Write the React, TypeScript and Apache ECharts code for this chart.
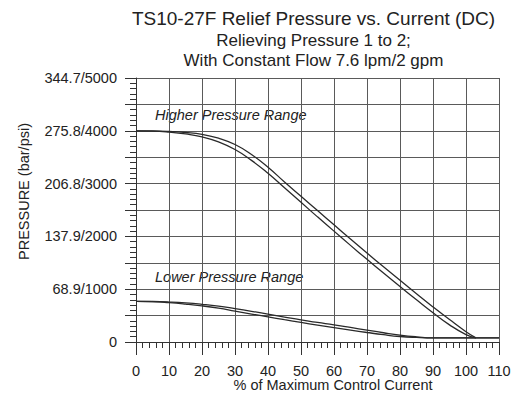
import React, { useEffect, useRef } from "react";
import * as echarts from "echarts";

const xValues = [0, 5, 10, 15, 20, 25, 30, 35, 40, 45, 50, 55, 60, 65, 70, 75, 80, 85, 90, 95, 100, 103];
const higherUpper = [4000, 3998, 3988, 3968, 3932, 3860, 3740, 3550, 3310, 3030, 2760, 2490, 2220, 1950, 1685, 1425, 1170, 915, 665, 425, 195, 78];
const higherLower = [4000, 3995, 3975, 3940, 3885, 3790, 3645, 3440, 3195, 2920, 2645, 2370, 2100, 1830, 1565, 1305, 1050, 800, 555, 325, 140, 78];

const lowX = [0, 5, 10, 15, 20, 25, 30, 35, 40, 45, 50, 55, 60, 65, 70, 75, 80, 85, 90, 110];
const lowerUpper = [770, 767, 757, 740, 714, 680, 633, 582, 527, 472, 418, 370, 325, 275, 225, 175, 130, 98, 78, 78];
const lowerLower = [770, 763, 745, 718, 684, 640, 585, 530, 476, 422, 370, 320, 272, 225, 180, 138, 104, 86, 78, 78];

const yTickLabels: Record<number, string> = {
  0: "0",
  1000: "68.9/1000",
  2000: "137.9/2000",
  3000: "206.8/3000",
  4000: "275.8/4000",
  5000: "344.7/5000",
};

const titleText = "TS10-27F Relief Pressure vs. Current (DC)";
const subLine1 = "Relieving Pressure 1 to 2;";
const subLine2 = "With Constant Flow 7.6 lpm/2 gpm";
const xName = "% of Maximum Control Current";
const yName = "PRESSURE (bar/psi)";
const higherLabel = "Higher Pressure Range";
const lowerLabel = "Lower Pressure Range";

const FONT = "'Liberation Sans', Arial, Helvetica, sans-serif";
const TXT = "#222";

function pairs(xs: number[], ys: number[]) {
  return xs.map((x, i) => [x, ys[i]]);
}

export default function App() {
  const ref = useRef<HTMLDivElement>(null);
  useEffect(() => {
    if (!ref.current) return;
    const chart = echarts.init(ref.current, null, { renderer: "svg" });
    const lineStyle = { color: "#2a2a2a", width: 1.3 };
    const mkSeries = (name: string, data: number[][]) => ({
      name,
      type: "line",
      data,
      showSymbol: false,
      smooth: 0.5,
      lineStyle,
      silent: true,
    });
    chart.setOption({
      animation: false,
      backgroundColor: "#ffffff",
      textStyle: { fontFamily: FONT },
      grid: { left: 136, right: 19, top: 78, bottom: 52 },
      xAxis: {
        type: "value",
        min: 0,
        max: 110,
        interval: 10,
        axisLine: { show: true, lineStyle: { color: "#333", width: 1 } },
        axisTick: { show: true, length: 13, lineStyle: { color: "#333", width: 1 } },
        minorTick: { show: true, splitNumber: 5, length: 6, lineStyle: { color: "#333", width: 1 } },
        splitLine: { show: true, lineStyle: { color: "#5a5a5a", width: 1 } },
        axisLabel: { color: TXT, fontSize: 14.5, margin: 21, fontFamily: FONT },
      },
      yAxis: {
        type: "value",
        min: 0,
        max: 5000,
        interval: 500,
        axisLine: { show: true, lineStyle: { color: "#333", width: 1 } },
        axisTick: { show: true, length: 11, lineStyle: { color: "#333", width: 1 } },
        minorTick: { show: true, splitNumber: 5, length: 6, lineStyle: { color: "#333", width: 1 } },
        splitLine: { show: true, lineStyle: { color: "#5a5a5a", width: 1 } },
        axisLabel: {
          color: TXT,
          fontSize: 14.5,
          margin: 19,
          fontFamily: FONT,
          formatter: (v: number) => (yTickLabels[v] !== undefined ? yTickLabels[v] : ""),
        },
      },
      series: [
        mkSeries("Higher upper", pairs(xValues, higherUpper)),
        mkSeries("Higher lower", pairs(xValues, higherLower)),
        mkSeries("Lower upper", pairs(lowX, lowerUpper)),
        mkSeries("Lower lower", pairs(lowX, lowerLower)),
      ],
      graphic: [
        {
          type: "text",
          style: { x: 313.5, y: 18.5, text: titleText, fill: TXT, font: `19px ${FONT}`, textAlign: "center", textVerticalAlign: "middle" },
        },
        {
          type: "text",
          style: { x: 313.5, y: 40.5, text: subLine1, fill: TXT, font: `17px ${FONT}`, textAlign: "center", textVerticalAlign: "middle" },
        },
        {
          type: "text",
          style: { x: 313.5, y: 60.5, text: subLine2, fill: TXT, font: `17px ${FONT}`, textAlign: "center", textVerticalAlign: "middle" },
        },
        {
          type: "text",
          style: { x: 333, y: 385, text: xName, fill: TXT, font: `14.5px ${FONT}`, textAlign: "center", textVerticalAlign: "middle" },
        },
        {
          type: "text",
          x: 23.5,
          y: 191.5,
          rotation: Math.PI / 2,
          style: { x: 0, y: 0, text: yName, fill: TXT, font: `14.5px ${FONT}`, textAlign: "center", textVerticalAlign: "middle" },
        },
        {
          type: "text",
          style: { x: 155, y: 114.5, text: higherLabel, fill: TXT, font: `italic 14.5px ${FONT}`, textAlign: "left", textVerticalAlign: "middle" },
        },
        {
          type: "text",
          style: { x: 155, y: 276.5, text: lowerLabel, fill: TXT, font: `italic 14.5px ${FONT}`, textAlign: "left", textVerticalAlign: "middle" },
        },
      ],
    });
    return () => chart.dispose();
  }, []);
  return <div ref={ref} style={{ width: 518, height: 394, position: "absolute", left: 0, top: 0 }} />;
}
